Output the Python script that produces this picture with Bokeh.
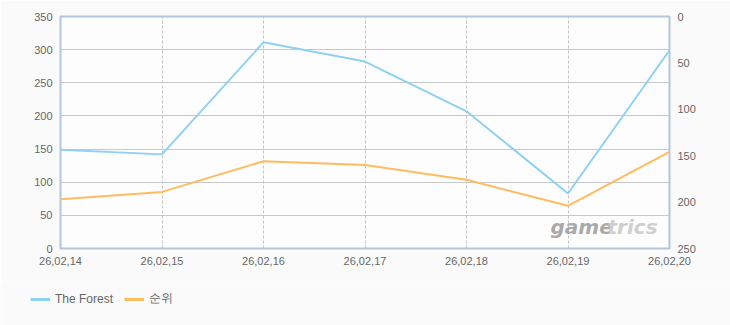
from bokeh.plotting import figure
from bokeh.models import Range1d, LinearAxis, FixedTicker, Legend, LegendItem, Label
from bokeh.layouts import column
from bokeh.embed import file_html
from bokeh.resources import INLINE

dates = ["26,02,14", "26,02,15", "26,02,16", "26,02,17", "26,02,18", "26,02,19", "26,02,20"]
forest = [149, 142, 311, 282, 207, 83, 299]
rank = [197, 189, 156, 160, 176, 204, 146]
left_ticks = [0, 50, 100, 150, 200, 250, 300, 350]
right_ticks = [0, 50, 100, 150, 200, 250]
series_names = ["The Forest", "순위"]
series_colors = ["#8fd1f2", "#fdbd5e"]

xs = list(range(len(dates)))
FONT = "Liberation Sans"
TXT = "#666666"
BG = "#fafafa"

p = figure(width=730, height=280, output_backend="svg", toolbar_location=None,
           x_range=Range1d(0, len(dates) - 1), y_range=Range1d(0, 350),
           min_border_left=60, min_border_right=61, min_border_top=16, min_border_bottom=32)
p.frame_align = False
p.extra_y_ranges = {"rank": Range1d(250, 0)}

p.border_fill_color = BG
p.background_fill_color = "#fdfdfd"
p.outline_line_color = "#b4c6da"
p.outline_line_width = 2

p.xaxis.ticker = FixedTicker(ticks=xs)
p.xaxis.major_label_overrides = {i: d for i, d in enumerate(dates)}
p.yaxis.ticker = FixedTicker(ticks=left_ticks)

for ax in (p.xaxis[0], p.yaxis[0]):
    ax.axis_line_color = None
    ax.major_tick_line_color = None
    ax.minor_tick_line_color = None
    ax.major_label_text_font = FONT
    ax.major_label_text_font_size = "11px"
    ax.major_label_text_color = TXT
    ax.major_label_standoff = 2

rax = LinearAxis(y_range_name="rank", ticker=FixedTicker(ticks=right_ticks))
rax.axis_line_color = None
rax.major_tick_line_color = None
rax.minor_tick_line_color = None
rax.major_label_text_font = FONT
rax.major_label_text_font_size = "11px"
rax.major_label_text_color = TXT
rax.major_label_standoff = 2
p.add_layout(rax, "right")

p.ygrid.grid_line_color = "#c8c8c8"
p.ygrid.grid_line_width = 1
p.xgrid.grid_line_color = "#c4c4c4"
p.xgrid.grid_line_dash = "3 2"

wm1 = Label(x=490, y=10, x_units="screen", y_units="screen", text="game",
            text_font="DejaVu Sans", text_font_style="bold italic", text_font_size="20px",
            text_color="#a9a9a9")
wm2 = Label(x=547, y=10, x_units="screen", y_units="screen", text="trics",
            text_font="DejaVu Sans", text_font_style="bold italic", text_font_size="20px",
            text_color="#cfcfcf")
p.add_layout(wm1)
p.add_layout(wm2)

r1 = p.line(xs, forest, line_color=series_colors[0], line_width=2)
r2 = p.line(xs, rank, line_color=series_colors[1], line_width=2, y_range_name="rank")

# legend strip below the chart
lg = figure(width=730, height=45, output_backend="svg", toolbar_location=None,
            x_range=Range1d(0, 1), y_range=Range1d(0, 1),
            x_axis_type=None, y_axis_type=None,
            min_border_left=0, min_border_right=0, min_border_top=0, min_border_bottom=0)
lg.frame_align = False
lg.border_fill_color = BG
lg.background_fill_color = BG
lg.outline_line_color = None
lg.grid.visible = False
nan = float("nan")
items = []
for name, col in zip(series_names, series_colors):
    rr = lg.line([0, 1], [nan, nan], line_color=col, line_width=3)
    items.append(LegendItem(label=name, renderers=[rr]))
legend = Legend(items=items, orientation="horizontal", location=(30, 18),
                background_fill_alpha=0, border_line_color=None,
                label_text_font=FONT, label_text_font_size="12px", label_text_color=TXT,
                glyph_width=20, glyph_height=6, spacing=11, label_standoff=5, padding=0, margin=0)
lg.add_layout(legend, "center")

layout = column(p, lg, spacing=0)
open("out.html", "w").write(file_html(layout, INLINE))
